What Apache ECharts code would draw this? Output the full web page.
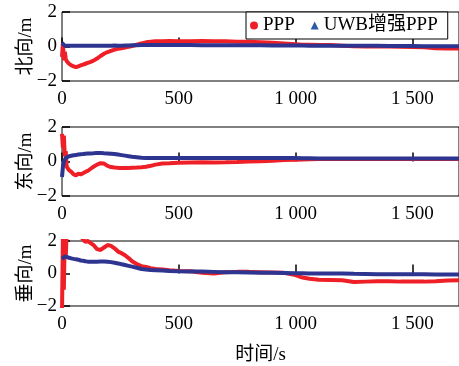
<!DOCTYPE html>
<html>
<head>
<meta charset="utf-8">
<script src="https://cdn.jsdelivr.net/npm/echarts@6/dist/echarts.min.js"></script>
<style>html,body{margin:0;padding:0;background:#fff}#c{width:459px;height:366px}</style>
</head>
<body>
<div id="c"></div>
<script>
const times = [0,4,8,12,16,20,30,40,50,60,70,80,90,100,110,120,135,150,165,180,195,210,225,240,255,270,285,300,320,340,360,380,400,430,460,500,550,600,650,700,750,800,850,900,950,1000,1030,1060,1100,1150,1200,1250,1300,1350,1400,1450,1500,1550,1600,1650,1700];

const northPPP = [-0.6,0.2,-0.8,-0.3,-0.7,-0.85,-1.0,-1.1,-1.15,-1.2,-1.15,-1.1,-1.05,-1.0,-0.95,-0.9,-0.82,-0.7,-0.55,-0.42,-0.32,-0.25,-0.18,-0.13,-0.1,-0.06,-0.02,0.02,0.1,0.18,0.24,0.27,0.3,0.3,0.32,0.3,0.3,0.32,0.3,0.3,0.28,0.27,0.25,0.22,0.18,0.13,0.1,0.1,0.08,0.08,0.05,0.02,0.0,0.0,0.0,-0.02,-0.03,-0.05,-0.1,-0.12,-0.12];
const northUWB = [0.2,0.1,0.15,0.05,0.08,0.05,0.05,0.04,0.05,0.05,0.04,0.05,0.05,0.04,0.05,0.05,0.05,0.04,0.05,0.05,0.05,0.05,0.06,0.05,0.05,0.06,0.06,0.07,0.07,0.08,0.08,0.08,0.08,0.08,0.08,0.08,0.08,0.07,0.07,0.07,0.07,0.07,0.07,0.06,0.06,0.06,0.06,0.05,0.05,0.05,0.05,0.04,0.04,0.04,0.03,0.03,0.03,0.02,0.02,0.01,0.01];

const eastPPP = [1.6,0.8,1.5,0.3,0.6,-0.3,-0.5,-0.6,-0.75,-0.8,-0.7,-0.75,-0.68,-0.6,-0.55,-0.45,-0.3,-0.18,-0.1,-0.12,-0.25,-0.32,-0.35,-0.37,-0.38,-0.38,-0.37,-0.36,-0.35,-0.33,-0.3,-0.25,-0.18,-0.12,-0.1,-0.07,-0.06,-0.05,-0.06,-0.05,-0.03,0.0,0.02,0.05,0.08,0.1,0.12,0.13,0.14,0.15,0.15,0.15,0.15,0.15,0.15,0.15,0.15,0.15,0.15,0.15,0.15];
const eastUWB = [-0.9,-0.3,0.0,0.1,0.2,0.25,0.3,0.33,0.36,0.38,0.4,0.42,0.43,0.45,0.46,0.47,0.48,0.5,0.5,0.48,0.47,0.45,0.43,0.4,0.37,0.34,0.31,0.28,0.25,0.22,0.2,0.2,0.2,0.2,0.2,0.2,0.2,0.2,0.2,0.2,0.2,0.2,0.2,0.2,0.2,0.2,0.19,0.19,0.18,0.18,0.18,0.18,0.18,0.18,0.18,0.18,0.18,0.18,0.18,0.18,0.18];

const vertPPP = [-2.5,2.5,-1.0,2.5,1.0,2.5,2.6,2.7,2.8,2.7,2.5,2.3,2.1,1.95,2.0,1.9,1.75,1.5,1.45,1.6,1.75,1.7,1.55,1.35,1.25,1.12,0.95,0.75,0.58,0.45,0.4,0.33,0.28,0.25,0.2,0.15,0.14,0.05,0.0,0.08,0.1,0.1,0.08,0.06,0.04,-0.1,-0.25,-0.32,-0.38,-0.4,-0.42,-0.52,-0.5,-0.48,-0.48,-0.5,-0.5,-0.5,-0.48,-0.43,-0.42];
const vertUWB = [0.9,1.0,0.85,1.05,1.0,1.0,0.97,0.93,0.9,0.88,0.85,0.8,0.78,0.75,0.73,0.72,0.72,0.73,0.74,0.74,0.72,0.7,0.66,0.62,0.57,0.52,0.47,0.42,0.35,0.28,0.24,0.21,0.2,0.18,0.16,0.14,0.13,0.12,0.1,0.07,0.07,0.06,0.05,0.04,0.03,0.02,0.01,0.0,0.0,0.0,0.0,-0.02,-0.03,-0.04,-0.05,-0.05,-0.05,-0.05,-0.06,-0.06,-0.06];

const yNames = ['北向/m','东向/m','垂向/m'];
const seriesNames = ['PPP','UWB增强PPP'];
const xName = '时间/s';

const RED = '#ee1f26';
const BLUE = '#2e3590';
const FONT = '"Liberation Serif", "Noto Sans CJK SC", serif';

function pairs(vals){ return times.map((t,i)=>[t, vals[i]]); }

const panels = [[northPPP,northUWB],[eastPPP,eastUWB],[vertPPP,vertUWB]];
const tops = [12,127,241];
const heights = [69,69,68];

const grids = [], xAxes = [], yAxes = [], series = [];
panels.forEach((p, i) => {
  grids.push({left:62, top:tops[i], width:403, height:heights[i], show:true, borderColor:'#000', borderWidth:1, backgroundColor:'transparent'});
  xAxes.push({
    type:'value', gridIndex:i, min:0, max:1700, interval:500,
    name: i===2 ? xName : '', nameLocation:'middle', nameGap:40, nameMoveOverlap:false,
    nameTextStyle:{fontFamily:FONT, fontSize:19, color:'#000'},
    axisLine:{show:false},
    axisTick:{show:true, inside:true, length:9, lineStyle:{color:'#000', width:1.5}},
    axisLabel:{color:'#000', fontFamily:FONT, fontSize:19, margin:9, showMaxLabel:false,
      formatter: v => v>=1000 ? String(v).replace(/(\d)(\d{3})$/, '$1 $2') : String(v)},
    splitLine:{show:false}
  });
  yAxes.push({
    type:'value', gridIndex:i, min:-2, max:2, interval:2,
    name: yNames[i], nameLocation:'middle', nameGap:26, nameMoveOverlap:false,
    nameTextStyle:{fontFamily:FONT, fontSize:19, color:'#000'},
    axisLine:{show:false},
    axisTick:{show:true, inside:true, length:8, lineStyle:{color:'#000', width:1.5}},
    axisLabel:{color:'#000', fontFamily:FONT, fontSize:19, margin:5,
      formatter: v => String(v).replace('-', '\u2212')},
    splitLine:{show:false}
  });
  series.push({
    name: seriesNames[0], type:'line', xAxisIndex:i, yAxisIndex:i,
    data: pairs(p[0]), showSymbol:false, symbol:'circle', clip:true,
    lineStyle:{color:RED, width:4}, itemStyle:{color:RED}, animation:false
  });
  series.push({
    name: seriesNames[1], type:'line', xAxisIndex:i, yAxisIndex:i,
    data: pairs(p[1]), showSymbol:false, symbol:'triangle', clip:true,
    lineStyle:{color:BLUE, width:4}, itemStyle:{color:BLUE}, animation:false
  });
});

const chart = echarts.init(document.getElementById('c'), null, {renderer:'canvas'});
chart.setOption({
  animation:false,
  backgroundColor:'#fff',
  grid: grids, xAxis: xAxes, yAxis: yAxes, series: series,
  legend: {
    left:246, top:12, orient:'horizontal',
    backgroundColor:'#fff', borderColor:'#000', borderWidth:1,
    padding:[4,10,4,4], itemGap:16, itemWidth:8, itemHeight:8,
    textStyle:{fontFamily:FONT, fontSize:19, color:'#000'},
    data:[
      {name:seriesNames[0], icon:'circle', itemStyle:{color:'#ee1f26'}},
      {name:seriesNames[1], icon:'triangle', itemStyle:{color:'#2c5aa8'}}
    ]
  }
});
</script>
</body>
</html>
